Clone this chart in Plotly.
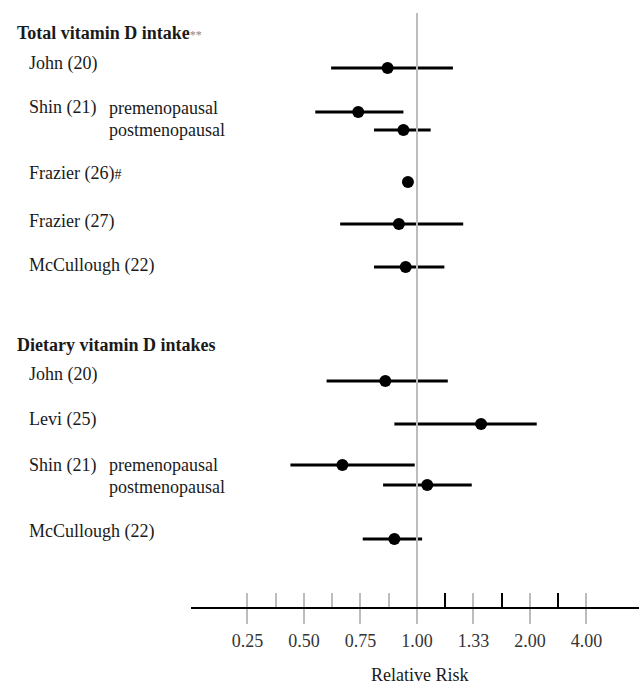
import numpy as np
import plotly.graph_objects as go

# ---------------- data ----------------
tick_values = [0.25, 0.50, 0.75, 1.00, 1.33, 2.00, 4.00]
tick_labels = ["0.25", "0.50", "0.75", "1.00", "1.33", "2.00", "4.00"]

studies = ["John (20)", "Shin (21) premenopausal", "Shin (21) postmenopausal",
           "Frazier (26)", "Frazier (27)", "McCullough (22)",
           "John (20)", "Levi (25)", "Shin (21) premenopausal",
           "Shin (21) postmenopausal", "McCullough (22)"]
groups = ["Total", "Total", "Total", "Total", "Total", "Total",
          "Dietary", "Dietary", "Dietary", "Dietary", "Dietary"]
rr = [0.87, 0.74, 0.94, 0.96, 0.92, 0.95, 0.86, 1.42, 0.67, 1.06, 0.90]
ci_low = [0.62, 0.55, 0.81, None, 0.66, 0.81, 0.60, 0.90, 0.44, 0.85, 0.76]
ci_high = [1.21, 0.94, 1.08, None, 1.27, 1.16, 1.18, 2.24, 0.99, 1.32, 1.03]

# ---------------- layout constants ----------------
W, H = 639, 684
ML, MB = 191, 77
PLOT_W = W - ML
PLOT_H = H - MB
tick_idx = list(range(-3, 4))
X_RANGE = [-4.0, 3.93]

row_y = [68, 112, 130, 182, 224, 267, 381, 424, 465, 485, 539]


def pos(v):
    return float(np.interp(v, tick_values, tick_idx))


def px_paper(px):
    return (px - ML) / PLOT_W


def py_paper(py):
    return (PLOT_H - py) / PLOT_H


SERIF = "Liberation Serif, Times New Roman, serif"
TXT = "#1a1a1a"

fig = go.Figure()

# CI lines
xs, ys = [], []
for lo, hi, y in zip(ci_low, ci_high, row_y):
    if lo is None:
        continue
    xs += [pos(lo), pos(hi), None]
    ys += [y, y, None]
fig.add_trace(go.Scatter(x=xs, y=ys, mode="lines",
                         line=dict(color="black", width=3),
                         hoverinfo="skip", showlegend=False))

# reference line at RR = 1
fig.add_trace(go.Scatter(x=[pos(1.0), pos(1.0)], y=[13, PLOT_H], mode="lines",
                         line=dict(color="#bdbdbd", width=2),
                         hoverinfo="skip", showlegend=False))

# point estimates
fig.add_trace(go.Scatter(x=[pos(v) for v in rr], y=row_y, mode="markers",
                         marker=dict(color="black", size=12),
                         text=studies, showlegend=False))

# invisible trace for overlay axis
fig.add_trace(go.Scatter(x=[0], y=[0], xaxis="x2", mode="markers",
                         marker=dict(opacity=0), hoverinfo="skip", showlegend=False))

# ---------------- labels ----------------
ann = []


def label(text, px, py, size=18):
    ann.append(dict(text=text, xref="paper", x=px_paper(px), xanchor="left",
                    yref="paper", y=py_paper(py), yanchor="middle", showarrow=False,
                    font=dict(family=SERIF, size=size, color=TXT)))


label("<b>Total vitamin D intake</b><span style='font-size:12px;color:#888'>**</span>", 15, 33)
label("John (20)", 27, 63)
label("Shin (21)", 27, 108)
label("premenopausal", 107, 108)
label("postmenopausal", 107, 130)
label("Frazier (26)<span style='font-size:14px'>#</span>", 27, 173)
label("Frazier (27)", 27, 221)
label("McCullough (22)", 27, 266)

label("<b>Dietary vitamin D intakes</b>", 15, 345)
label("John (20)", 27, 374)
label("Levi (25)", 27, 420)
label("Shin (21)", 27, 465)
label("premenopausal", 107, 465)
label("postmenopausal", 107, 487)
label("McCullough (22)", 27, 531)

ann.append(dict(text="Relative Risk", xref="paper", x=px_paper(420), xanchor="center",
                yref="paper", y=py_paper(675), yanchor="middle", showarrow=False,
                font=dict(family=SERIF, size=18, color=TXT)))

fig.update_layout(
    width=W, height=H,
    margin=dict(l=ML, r=0, t=0, b=MB, pad=0),
    paper_bgcolor="white", plot_bgcolor="white",
    showlegend=False,
    annotations=ann,
    xaxis=dict(
        range=X_RANGE, domain=[0, 1], anchor="y",
        showline=True, linecolor="black", linewidth=2,
        tickmode="array", tickvals=tick_idx, ticktext=tick_labels,
        ticks="outside", ticklen=15, tickwidth=2, tickcolor="#bdbdbd",
        tickfont=dict(family=SERIF, size=18, color="#333"),
        ticklabelstandoff=1,
        showgrid=False, zeroline=False, fixedrange=True,
        minor=dict(tickmode="array", tickvals=[-2.5, -1.5, -0.5],
                   ticks="inside", ticklen=14, tickwidth=2, tickcolor="#bdbdbd",
                   showgrid=False),
    ),
    xaxis2=dict(
        range=X_RANGE, overlaying="x", anchor="y", side="bottom",
        showline=False, showticklabels=False,
        tickmode="array", tickvals=tick_idx,
        ticks="inside", ticklen=14, tickwidth=2, tickcolor="#bdbdbd",
        showgrid=False, zeroline=False, fixedrange=True,
        minor=dict(tickmode="array", tickvals=[0.5, 1.5, 2.5],
                   ticks="inside", ticklen=14, tickwidth=2, tickcolor="black",
                   showgrid=False),
    ),
    yaxis=dict(range=[PLOT_H, 0], visible=False, fixedrange=True),
)

fig.write_html("out.html", config={"displayModeBar": False},
               post_script="document.body.style.margin='0';")
